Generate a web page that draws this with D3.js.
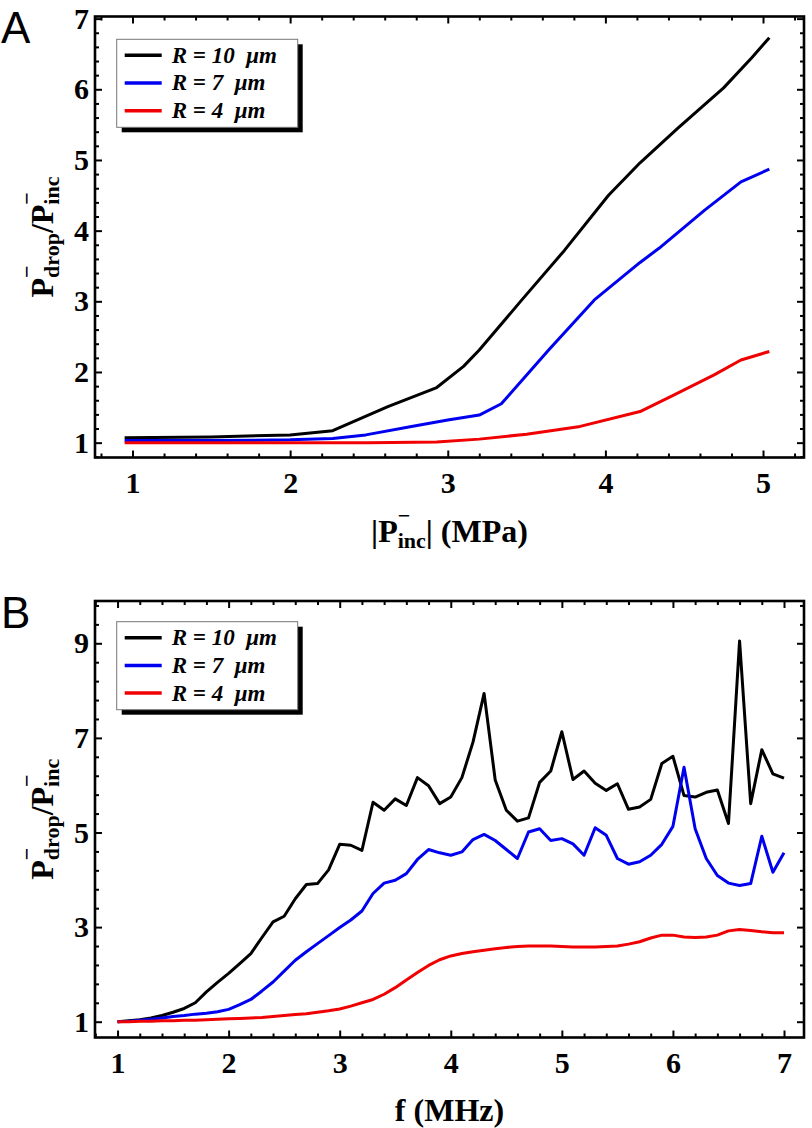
<!DOCTYPE html>
<html>
<head>
<meta charset="utf-8">
<script src="https://cdn.jsdelivr.net/npm/d3@7"></script>
<style>
  html, body { margin: 0; padding: 0; background: #fff; }
  svg { display: block; }
  text { white-space: pre; }
</style>
</head>
<body>
<svg id="chart" width="812" height="1128"></svg>
<script>
// ---------------- DATA ----------------
const seriesNames = ["R = 10  μm", "R = 7  μm", "R = 4  μm"];
const seriesColors = ["#000000", "#0000f0", "#f00000"];

// Panel A : |P_inc| (MPa) vs P_drop/P_inc
const aBlackX = [0.95, 1.5, 2.0, 2.27, 2.62, 2.93, 3.1, 3.2, 3.47, 3.74, 4.02, 4.22, 4.46, 4.75, 4.93, 5.04];
const aBlackY = [1.07, 1.08, 1.11, 1.17, 1.51, 1.78, 2.08, 2.31, 3.02, 3.72, 4.50, 4.96, 5.45, 6.02, 6.45, 6.73];
const aBlueX  = [0.95, 1.5, 2.0, 2.27, 2.48, 2.77, 3.0, 3.2, 3.34, 3.64, 3.93, 4.22, 4.34, 4.63, 4.86, 5.04];
const aBlueY  = [1.03, 1.03, 1.04, 1.06, 1.11, 1.23, 1.32, 1.39, 1.55, 2.31, 3.02, 3.55, 3.75, 4.29, 4.69, 4.87];
const aRedX   = [0.95, 1.5, 2.0, 2.5, 2.93, 3.2, 3.5, 3.84, 4.22, 4.43, 4.69, 4.86, 5.04];
const aRedY   = [1.00, 1.00, 1.00, 1.00, 1.01, 1.05, 1.12, 1.23, 1.44, 1.67, 1.96, 2.17, 2.29];
const aXTicks = [1, 2, 3, 4, 5];
const aYTicks = [1, 2, 3, 4, 5, 6, 7];

// Panel B : f (MHz) vs P_drop/P_inc
const bFreq = [1.0, 1.1, 1.2, 1.3, 1.4, 1.5, 1.6, 1.7, 1.8, 1.9,
               2.0, 2.1, 2.2, 2.3, 2.4, 2.5, 2.6, 2.7, 2.8, 2.9,
               3.0, 3.1, 3.2, 3.3, 3.4, 3.5, 3.6, 3.7, 3.8, 3.9,
               4.0, 4.1, 4.2, 4.3, 4.4, 4.5, 4.6, 4.7, 4.8, 4.9,
               5.0, 5.1, 5.2, 5.3, 5.4, 5.5, 5.6, 5.7, 5.8, 5.9,
               6.0, 6.1, 6.2, 6.3, 6.4, 6.5, 6.6, 6.7, 6.8, 6.9, 7.0];
const bBlack = [1.00, 1.02, 1.04, 1.08, 1.13, 1.20, 1.28, 1.40, 1.63, 1.83,
                2.02, 2.23, 2.44, 2.78, 3.11, 3.23, 3.60, 3.90, 3.92, 4.21,
                4.75, 4.73, 4.62, 5.64, 5.47, 5.71, 5.57, 6.16, 5.99, 5.61,
                5.75, 6.16, 6.91, 7.94, 6.11, 5.47, 5.24, 5.31, 6.06, 6.30,
                7.13, 6.12, 6.30, 6.04, 5.89, 6.03, 5.49, 5.54, 5.70, 6.46,
                6.61, 5.78, 5.75, 5.85, 5.90, 5.19, 9.05, 5.61, 6.75, 6.24, 6.15];
const bBlue  = [1.00, 1.01, 1.03, 1.05, 1.08, 1.11, 1.13, 1.16, 1.18, 1.21,
                1.26, 1.36, 1.47, 1.65, 1.84, 2.07, 2.30, 2.48, 2.65, 2.82,
                2.99, 3.15, 3.34, 3.71, 3.93, 3.99, 4.13, 4.43, 4.64, 4.57,
                4.52, 4.59, 4.85, 4.96, 4.83, 4.64, 4.45, 5.01, 5.08, 4.83,
                4.87, 4.76, 4.52, 5.10, 4.94, 4.45, 4.33, 4.38, 4.52, 4.75,
                5.13, 6.38, 5.08, 4.45, 4.09, 3.93, 3.88, 3.92, 4.92, 4.16, 4.57];
const bRed   = [1.00, 1.00, 1.01, 1.01, 1.02, 1.02, 1.03, 1.03, 1.04, 1.05,
                1.06, 1.07, 1.08, 1.09, 1.11, 1.13, 1.15, 1.17, 1.20, 1.23,
                1.27, 1.33, 1.40, 1.47, 1.58, 1.72, 1.88, 2.04, 2.19, 2.31,
                2.39, 2.44, 2.48, 2.51, 2.54, 2.57, 2.59, 2.60, 2.60, 2.60,
                2.59, 2.58, 2.58, 2.58, 2.59, 2.60, 2.64, 2.69, 2.77, 2.83,
                2.83, 2.79, 2.78, 2.79, 2.83, 2.92, 2.95, 2.93, 2.90, 2.88, 2.88];
const bXTicks = [1, 2, 3, 4, 5, 6, 7];
const bYTicks = [1, 3, 5, 7, 9];

// ---------------- DRAWING ----------------
const svg = d3.select("#chart");
const serif = "'Liberation Serif','Times New Roman',Times,serif";
const sans = "'Liberation Sans',Arial,Helvetica,sans-serif";

function measure(str, size, weight, style) {
  const t = svg.append("text").attr("font-family", serif).attr("font-size", size)
    .attr("font-weight", weight || "bold").attr("font-style", style || "normal").text(str);
  const w = t.node().getComputedTextLength();
  t.remove();
  return w;
}

// Math-like label: items [{t:"P", sub:"drop"}, ...] ; sub gets superscript minus stacked above
function mathLabel(text, items, big, small) {
  const mw = measure("−", small);
  const supRaise = 19, subDrop = 6;
  let cur = 0;
  items.forEach(it => {
    if (it.t) {
      text.append("tspan").attr("font-size", big).attr("dy", -cur).text(it.t);
      cur = 0;
    }
    if (it.sub) {
      text.append("tspan").attr("font-size", small).attr("dy", -supRaise - cur).text("−");
      cur = -supRaise;
      text.append("tspan").attr("font-size", small).attr("dx", -mw).attr("dy", subDrop - cur).text(it.sub);
      cur = subDrop;
    }
  });
}

function minorValues(start, end, step, domain, majors) {
  const out = [];
  for (let i = 0; start + i * step <= end + 1e-9; i++) {
    const v = +(start + i * step).toFixed(4);
    if (v >= domain[0] && v <= domain[1] && !majors.some(m => Math.abs(m - v) < 1e-6)) out.push(v);
  }
  return out;
}

function panel(cfg) {
  const g = svg.append("g");
  const x = d3.scaleLinear().domain(cfg.xDomain).range([cfg.left, cfg.right]);
  const y = d3.scaleLinear().domain(cfg.yDomain).range([cfg.bottom, cfg.top]);
  const MAJ = 7, MIN = 4;

  const xMinor = minorValues(cfg.xMinor[0], cfg.xMinor[1], cfg.xMinor[2], cfg.xDomain, cfg.xTicks);
  const yMinor = minorValues(cfg.yMinor[0], cfg.yMinor[1], cfg.yMinor[2], cfg.yDomain, cfg.yTicks);

  function styleAxis(a) {
    a.select(".domain").remove();
    a.selectAll("line").attr("stroke", "#000").attr("stroke-width", 2);
    a.selectAll("text").attr("font-family", serif).attr("font-size", 30)
      .attr("font-weight", "bold").attr("fill", "#000");
  }
  // bottom
  styleAxis(g.append("g").attr("transform", `translate(0,${cfg.bottom})`)
    .call(d3.axisBottom(x).tickValues(cfg.xTicks).tickSize(-MAJ).tickPadding(14).tickFormat(d3.format("d"))));
  styleAxis(g.append("g").attr("transform", `translate(0,${cfg.bottom})`)
    .call(d3.axisBottom(x).tickValues(xMinor).tickSize(-MIN).tickFormat("")));
  // top
  styleAxis(g.append("g").attr("transform", `translate(0,${cfg.top})`)
    .call(d3.axisTop(x).tickValues(cfg.xTicks).tickSize(-MAJ).tickFormat("")));
  styleAxis(g.append("g").attr("transform", `translate(0,${cfg.top})`)
    .call(d3.axisTop(x).tickValues(xMinor).tickSize(-MIN).tickFormat("")));
  // left
  styleAxis(g.append("g").attr("transform", `translate(${cfg.left},0)`)
    .call(d3.axisLeft(y).tickValues(cfg.yTicks).tickSize(-MAJ).tickPadding(6).tickFormat(d3.format("d"))));
  styleAxis(g.append("g").attr("transform", `translate(${cfg.left},0)`)
    .call(d3.axisLeft(y).tickValues(yMinor).tickSize(-MIN).tickFormat("")));
  // right
  styleAxis(g.append("g").attr("transform", `translate(${cfg.right},0)`)
    .call(d3.axisRight(y).tickValues(cfg.yTicks).tickSize(-MAJ).tickFormat("")));
  styleAxis(g.append("g").attr("transform", `translate(${cfg.right},0)`)
    .call(d3.axisRight(y).tickValues(yMinor).tickSize(-MIN).tickFormat("")));

  // data lines
  const line = d3.line().x(d => x(d[0])).y(d => y(d[1]));
  cfg.series.forEach((s, i) => {
    g.append("path").datum(s.xs.map((v, k) => [v, s.ys[k]]))
      .attr("d", line).attr("fill", "none").attr("stroke", seriesColors[i])
      .attr("stroke-width", 3).attr("stroke-linejoin", "round");
  });

  // frame
  g.append("rect").attr("x", cfg.left).attr("y", cfg.top)
    .attr("width", cfg.right - cfg.left).attr("height", cfg.bottom - cfg.top)
    .attr("fill", "none").attr("stroke", "#000").attr("stroke-width", 2.6);

  // legend
  const lg = g.append("g").attr("transform", `translate(${cfg.legend[0]},${cfg.legend[1]})`);
  const lw = 181, lh = 88;
  lg.append("rect").attr("x", 5).attr("y", 5).attr("width", lw).attr("height", lh).attr("fill", "#000");
  lg.append("rect").attr("x", 0).attr("y", 0).attr("width", lw).attr("height", lh)
    .attr("fill", "#fff").attr("stroke", "#777").attr("stroke-width", 1);
  seriesNames.forEach((n, i) => {
    const yy = 16 + i * 27.7;
    lg.append("line").attr("x1", 8).attr("x2", 45).attr("y1", yy).attr("y2", yy)
      .attr("stroke", seriesColors[i]).attr("stroke-width", 3.5);
    lg.append("text").attr("x", 55).attr("y", yy + 7.5).attr("font-family", serif)
      .attr("font-size", 23).attr("font-weight", "bold").attr("font-style", "italic").text(n);
  });

  // panel letter
  g.append("text").attr("x", 1).attr("y", cfg.letterY).attr("font-family", sans)
    .attr("font-size", 44).attr("fill", "#000").text(cfg.letter);

  // y title
  const cy = (cfg.top + cfg.bottom) / 2;
  const yt = g.append("text").attr("transform", `translate(53,${cy}) rotate(-90)`)
    .attr("text-anchor", "middle").attr("font-family", serif).attr("font-weight", "bold");
  mathLabel(yt, [{ t: "P", sub: "drop" }, { t: "/P", sub: "inc" }], 32, 22);

  // x title
  const cx = (cfg.left + cfg.right) / 2;
  const xt = g.append("text").attr("x", cx).attr("y", cfg.xTitleY)
    .attr("text-anchor", "middle").attr("font-family", serif).attr("font-weight", "bold");
  mathLabel(xt, cfg.xTitle, 32, 22);
}

panel({
  letter: "A", letterY: 43,
  left: 95, right: 804, top: 16.5, bottom: 457.5,
  xDomain: [0.762, 5.26], yDomain: [0.79, 7.03],
  xTicks: aXTicks, yTicks: aYTicks,
  xMinor: [0.8, 5.2, 0.2], yMinor: [0.8, 7.0, 0.2],
  series: [{ xs: aBlackX, ys: aBlackY }, { xs: aBlueX, ys: aBlueY }, { xs: aRedX, ys: aRedY }],
  legend: [116.7, 39.3],
  xTitle: [{ t: "|P", sub: "inc" }, { t: "| (MPa)" }], xTitleY: 542
});

panel({
  letter: "B", letterY: 628,
  left: 95, right: 804, top: 601, bottom: 1037.5,
  xDomain: [0.797, 7.18], yDomain: [0.666, 9.894],
  xTicks: bXTicks, yTicks: bYTicks,
  xMinor: [0.8, 7.2, 0.2], yMinor: [0.6, 9.8, 0.4],
  series: [{ xs: bFreq, ys: bBlack }, { xs: bFreq, ys: bBlue }, { xs: bFreq, ys: bRed }],
  legend: [116.7, 621.7],
  xTitle: [{ t: "f (MHz)" }], xTitleY: 1121
});
</script>
</body>
</html>
